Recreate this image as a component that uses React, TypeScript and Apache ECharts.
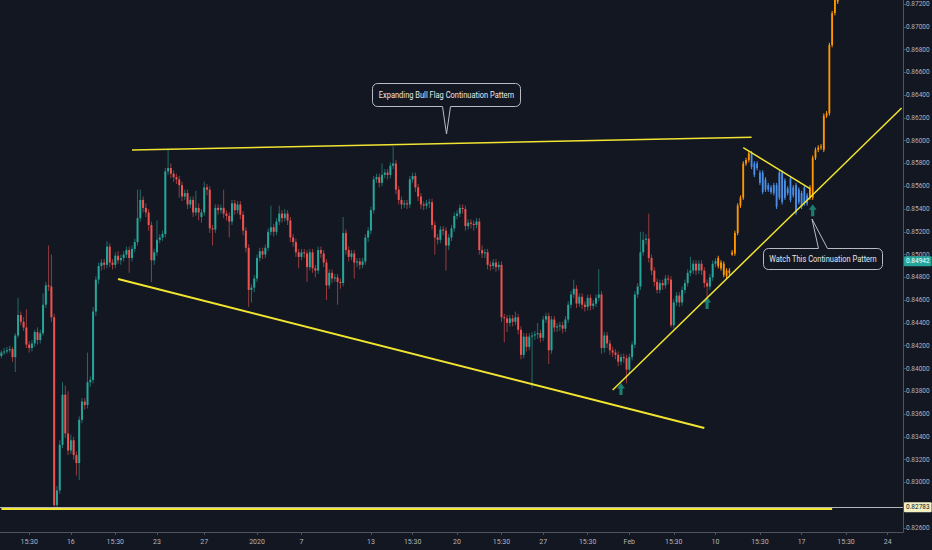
import React, { useEffect, useRef } from "react";
import * as echarts from "echarts";

// Real 4H candles: [open, close, low, high] in units of 0.0001
const candleOHLC: number[][] = [
[8411,8414,8409,8416],[8414,8415,8412,8418],[8415,8416,8413,8419],[8416,8417,8414,8420],[8417,8410,8406,8419],[8410,8429,8397,8431],[8429,8447,8427,8462],[8447,8441,8438,8450],
[8441,8436,8433,8445],[8436,8421,8418,8452],[8421,8418,8414,8424],[8418,8422,8415,8425],[8422,8432,8419,8434],[8432,8425,8421,8436],[8425,8431,8422,8434],[8431,8456,8429,8466],
[8456,8473,8453,8476],[8473,8472,8468,8508],[8472,8445,8441,8500],[8445,8280,8278,8448],[8280,8293,8278,8297],[8293,8333,8290,8337],[8333,8377,8330,8388],[8377,8343,8339,8385],
[8343,8328,8324,8380],[8328,8337,8325,8342],[8337,8324,8320,8340],[8324,8317,8306,8327],[8317,8355,8302,8358],[8355,8371,8352,8374],[8371,8368,8364,8374],[8368,8388,8365,8414],
[8388,8390,8384,8393],[8390,8450,8387,8454],[8450,8478,8446,8481],[8478,8490,8474,8493],[8490,8493,8486,8496],[8493,8491,8487,8496],[8491,8507,8488,8512],[8507,8493,8489,8510],
[8493,8491,8487,8496],[8491,8499,8488,8502],[8499,8495,8492,8503],[8495,8497,8491,8500],[8497,8500,8494,8503],[8500,8504,8497,8507],[8504,8497,8484,8507],[8497,8505,8494,8508],
[8505,8511,8502,8514],[8511,8532,8508,8557],[8532,8548,8529,8557],[8548,8541,8537,8551],[8541,8537,8533,8545],[8537,8526,8521,8540],[8526,8495,8476,8529],[8495,8502,8491,8505],
[8502,8513,8499,8530],[8513,8515,8510,8518],[8515,8518,8512,8521],[8518,8573,8515,8576],[8573,8576,8570,8592],[8576,8571,8567,8580],[8571,8568,8564,8574],[8568,8566,8562,8571],
[8566,8561,8550,8569],[8561,8551,8547,8564],[8551,8554,8548,8557],[8554,8544,8540,8557],[8544,8548,8541,8551],[8548,8537,8533,8551],[8537,8541,8534,8556],[8541,8537,8530,8545],
[8533,8537,8528,8540],[8537,8559,8534,8564],[8559,8557,8552,8562],[8557,8523,8519,8560],[8523,8522,8508,8526],[8522,8541,8519,8544],[8541,8539,8535,8544],[8539,8541,8536,8544],
[8541,8536,8532,8557],[8536,8534,8530,8539],[8534,8529,8515,8537],[8529,8545,8526,8548],[8545,8539,8535,8548],[8539,8544,8536,8547],[8544,8535,8531,8547],[8535,8521,8517,8538],
[8521,8506,8502,8524],[8506,8469,8454,8509],[8469,8471,8458,8474],[8471,8479,8467,8482],[8479,8497,8476,8500],[8497,8503,8494,8506],[8503,8500,8496,8506],[8500,8506,8497,8509],
[8506,8520,8503,8523],[8520,8524,8517,8543],[8524,8520,8516,8527],[8520,8529,8517,8532],[8529,8536,8526,8543],[8536,8532,8528,8539],[8532,8536,8529,8540],[8536,8530,8526,8539],
[8530,8515,8511,8533],[8515,8511,8507,8518],[8511,8502,8498,8514],[8502,8498,8488,8505],[8498,8502,8495,8505],[8502,8501,8497,8505],[8501,8489,8476,8504],[8489,8502,8486,8505],
[8502,8488,8484,8505],[8488,8486,8480,8491],[8486,8504,8483,8507],[8504,8501,8497,8507],[8501,8493,8489,8504],[8493,8473,8460,8496],[8473,8484,8470,8487],[8484,8479,8475,8487],
[8479,8480,8476,8483],[8480,8476,8456,8483],[8476,8475,8470,8479],[8475,8519,8472,8533],[8519,8504,8500,8522],[8504,8498,8494,8507],[8498,8501,8495,8504],[8501,8493,8479,8504],
[8493,8494,8489,8497],[8494,8491,8487,8497],[8491,8494,8488,8497],[8494,8515,8491,8518],[8515,8521,8511,8524],[8521,8539,8518,8542],[8539,8566,8536,8569],[8566,8568,8563,8571],
[8568,8563,8559,8571],[8563,8570,8560,8580],[8570,8572,8567,8575],[8572,8570,8566,8575],[8570,8578,8567,8581],[8578,8580,8575,8595],[8580,8557,8553,8583],[8557,8548,8544,8560],
[8548,8544,8540,8551],[8544,8545,8541,8548],[8545,8544,8540,8548],[8544,8566,8541,8569],[8566,8569,8563,8572],[8569,8559,8555,8572],[8559,8551,8547,8562],[8551,8544,8540,8554],
[8544,8543,8539,8547],[8543,8545,8540,8548],[8545,8546,8541,8549],[8546,8526,8522,8549],[8526,8515,8500,8529],[8515,8513,8509,8518],[8513,8522,8510,8525],[8522,8521,8517,8525],
[8521,8508,8486,8524],[8508,8515,8504,8518],[8515,8523,8512,8526],[8523,8534,8520,8537],[8534,8536,8531,8539],[8536,8541,8533,8544],[8541,8540,8536,8544],[8540,8525,8521,8543],
[8525,8528,8522,8531],[8528,8527,8523,8531],[8527,8526,8521,8530],[8526,8529,8523,8532],[8529,8504,8500,8532],[8504,8501,8497,8508],[8501,8502,8497,8505],[8502,8491,8487,8505],
[8491,8490,8486,8494],[8490,8493,8487,8496],[8493,8489,8485,8496],[8489,8491,8486,8494],[8491,8445,8441,8494],[8445,8444,8423,8448],[8444,8440,8432,8447],[8440,8444,8437,8447],
[8444,8441,8437,8447],[8441,8445,8438,8450],[8445,8434,8430,8448],[8434,8412,8408,8437],[8412,8428,8409,8431],[8428,8419,8415,8431],[8419,8428,8416,8431],[8428,8429,8383,8432],
[8429,8430,8425,8433],[8430,8431,8426,8440],[8431,8427,8423,8434],[8427,8443,8424,8446],[8443,8446,8440,8449],[8446,8416,8404,8449],[8416,8443,8413,8446],[8443,8436,8432,8446],
[8436,8437,8432,8440],[8437,8438,8433,8441],[8438,8435,8431,8441],[8435,8443,8432,8446],[8443,8456,8440,8459],[8456,8465,8453,8468],[8465,8470,8462,8478],[8470,8457,8453,8473],
[8457,8463,8454,8466],[8463,8456,8452,8466],[8456,8454,8450,8459],[8454,8462,8451,8465],[8462,8455,8451,8465],[8455,8457,8452,8460],[8457,8462,8454,8465],[8462,8465,8459,8487],
[8465,8418,8413,8468],[8418,8429,8414,8432],[8429,8422,8418,8432],[8422,8416,8412,8425],[8416,8414,8410,8419],[8414,8412,8408,8417],[8412,8406,8402,8415],[8406,8410,8403,8413],
[8410,8409,8405,8413],[8409,8399,8387,8412],[8399,8410,8396,8413],[8410,8421,8407,8424],[8421,8465,8418,8468],[8465,8472,8462,8475],[8472,8502,8469,8520],[8502,8513,8499,8520],
[8513,8514,8509,8518],[8514,8497,8493,8536],[8497,8486,8482,8500],[8486,8476,8472,8489],[8476,8469,8466,8479],[8469,8475,8466,8478],[8475,8473,8469,8478],[8473,8479,8470,8482],
[8479,8478,8474,8482],[8478,8438,8436,8481],[8438,8458,8435,8461],[8458,8464,8455,8467],[8464,8458,8454,8467],[8458,8469,8455,8472],[8469,8475,8466,8478],[8475,8484,8472,8487],
[8484,8486,8481,8498],[8486,8492,8483,8495],[8492,8486,8482,8495],[8486,8492,8483,8495],[8492,8486,8482,8495],[8486,8475,8471,8489],[8475,8472,8458,8478],[8472,8480,8469,8483],
[8480,8492,8477,8495],[8492,8494.2,8489,8497]
];

// Projected bars drawn after the last candle: "o" = orange, "b" = blue
const projKind: string[] = [
"o","o","o","o","o","o","o","o","o","o","o","o",
"b","b","b","b","b","b","b","b","b","b","b","b","b","b","b","b","b","b","b","b","b",
"o","o","o","o","o","o","o","o","o","o","o"
];
const projOHLC: number[][] = [
[8497,8490,8488,8499],[8493,8488,8486,8495],[8492,8482,8480,8494],[8486,8481,8479,8488],[8484,8486,8482,8488],[8500,8502,8499,8504],
[8501,8519,8499,8521],[8519,8543,8517,8545],[8543,8550,8541,8552],[8550,8580,8548,8582],[8580,8583,8578,8585],[8583,8589,8581,8591],
[8589,8577,8575,8591],[8580,8570,8568,8582],[8580,8576,8574,8582],[8572,8563,8561,8574],[8572,8555,8553,8574],[8566,8557,8555,8568],
[8561,8557,8555,8563],[8559,8555,8553,8561],[8561,8554,8552,8563],[8561,8542,8540,8563],[8572,8550,8548,8574],[8572,8546,8544,8574],
[8565,8550,8548,8567],[8558,8554,8552,8560],[8567,8548,8546,8569],[8559,8552,8550,8561],[8561,8537,8535,8563],[8557,8546,8544,8559],
[8554,8542,8540,8556],[8559,8545,8543,8561],[8552,8545,8543,8554],
[8550,8559,8548,8561],[8550,8585,8548,8587],[8585,8592,8583,8594],[8592,8594,8590,8596],[8594,8595,8592,8597],[8592,8622,8590,8624],
[8622,8624,8620,8626],[8624,8684,8622,8686],[8684,8712,8682,8714],[8712,8724,8710,8730],[8722,8728,8720,8735]
];

const slotCount = 325;

// X-axis tick labels: [category index, text]
const xTickIdx: number[] = [10, 25, 41, 56, 73, 92, 108, 133, 148, 164, 180, 195, 211, 226, 242, 257, 273, 288, 304, 319];
const xTickText: string[] = ["15:30", "16", "15:30", "23", "27", "2020", "7", "13", "15:30", "20", "15:30", "27", "15:30", "Feb", "15:30", "10", "15:30", "17", "15:30", "24"];

// Y-axis tick values (0.828 is covered by the 0.82783 price tag, so it has no label)
const yTicks: number[] = [0.826, 0.828, 0.83, 0.832, 0.834, 0.836, 0.838, 0.84, 0.842, 0.844, 0.846, 0.848, 0.85, 0.852, 0.854, 0.856, 0.858, 0.86, 0.862, 0.864, 0.866, 0.868, 0.87, 0.872];
const yLabelTicks: number[] = [0.826, 0.83, 0.832, 0.834, 0.836, 0.838, 0.84, 0.842, 0.844, 0.846, 0.848, 0.85, 0.852, 0.854, 0.856, 0.858, 0.86, 0.862, 0.864, 0.866, 0.868, 0.87, 0.872];

// Trend lines: [[index, price], [index, price]]
const topLine = [[47, 0.85918], [270, 0.86031]];
const lowerLine = [[42, 0.84786], [253, 0.83478]];
const riseLine = [[220, 0.83811], [324, 0.86287]];
const flagLine = [[267, 0.85939], [291, 0.8558]];
const baseLine = [[0, 0.82767], [299, 0.82767]];

// Up arrows: [index, price]
const arrows = [[223, 0.8382], [254, 0.84575], [292, 0.8539]];

const hLinePrice = 0.82783;
const lastPrice = 0.84942;

const FONT = "Roboto, 'Liberation Sans', sans-serif";

export default function App() {
  const ref = useRef<HTMLDivElement>(null);

  useEffect(() => {
    if (!ref.current) return;
    const chart = echarts.init(ref.current, undefined, { renderer: "svg" });

    const cats = Array.from({ length: slotCount }, (_, i) => String(i));
    const tickMap: Record<number, string> = {};
    xTickIdx.forEach((idx, k) => (tickMap[idx] = xTickText[k]));
    const showTick = (index: number) => tickMap[index] !== undefined;

    const candleData = candleOHLC.map((r, i) => [i, r[0] / 10000, r[1] / 10000, r[2] / 10000, r[3] / 10000]);
    const projData = projOHLC.map((r, k) => [candleOHLC.length + k, r[0] / 10000, r[1] / 10000, r[2] / 10000, r[3] / 10000, projKind[k] === "b" ? 1 : 0]);

    const renderCandle = (params: any, api: any) => {
      const x = api.value(0);
      const o = api.value(1), c = api.value(2), l = api.value(3), h = api.value(4);
      const pO = api.coord([x, o]);
      const pC = api.coord([x, c]);
      const pL = api.coord([x, l]);
      const pH = api.coord([x, h]);
      const up = c >= o;
      const col = up ? "#26a69a" : "#ef5350";
      const bw = 2;
      const top = Math.min(pO[1], pC[1]);
      const bh = Math.max(Math.abs(pO[1] - pC[1]), 1);
      return {
        type: "group",
        children: [
          { type: "line", shape: { x1: pH[0], y1: pH[1], x2: pL[0], y2: pL[1] }, style: { stroke: col, lineWidth: 1, opacity: 0.6 } },
          { type: "rect", shape: { x: pO[0] - bw / 2, y: top, width: bw, height: bh }, style: { fill: col } },
        ],
      };
    };

    const renderProj = (params: any, api: any) => {
      const x = api.value(0);
      const o = api.value(1), c = api.value(2), l = api.value(3), h = api.value(4);
      const blue = api.value(5) === 1;
      const col = blue ? "#4a8fe7" : "#ff9800";
      const pO = api.coord([x, o]);
      const pC = api.coord([x, c]);
      const pL = api.coord([x, l]);
      const pH = api.coord([x, h]);
      const top = Math.min(pO[1], pC[1]);
      const bh = Math.max(Math.abs(pO[1] - pC[1]), 1);
      return {
        type: "group",
        children: [
          { type: "line", shape: { x1: pH[0], y1: pH[1], x2: pL[0], y2: pL[1] }, style: { stroke: col, lineWidth: 1 } },
          { type: "rect", shape: { x: pO[0] - 0.9, y: top, width: 1.8, height: bh }, style: { fill: col } },
        ],
      };
    };

    const yellow = "#f2e531";
    const trend = (data: number[][], extra: any = {}) => ({
      type: "line",
      data,
      symbol: "none",
      silent: true,
      animation: false,
      lineStyle: { color: yellow, width: 1.5 },
      z: 5,
      ...extra,
    });

    const arrowPath = "path://M5,0 L10,5.5 L7,5.5 L7,12 L3,12 L3,5.5 L0,5.5 Z";

    const priceLabel = (bg: string, fg: string) => ({
      show: true,
      position: "end",
      distance: 1,
      formatter: (p: any) => Number(p.value).toFixed(5),
      backgroundColor: bg,
      color: fg,
      fontSize: 6.5,
      fontFamily: FONT,
      padding: [2, 2, 1, 2],
      borderRadius: 1,
    });

    const border = "#b8bbc4";
    const bg = "#131722";
    const callText = { fill: "#e6e8ee", font: `8.5px ${FONT}`, textAlign: "center", textVerticalAlign: "middle" };

    chart.setOption({
      animation: false,
      backgroundColor: bg,
      grid: { left: 0, right: 29, top: 0, bottom: 18, containLabel: false, outerBoundsMode: "none" },
      xAxis: {
        type: "category",
        data: cats,
        boundaryGap: true,
        axisLine: { show: true, lineStyle: { color: "#50535e", width: 1 } },
        axisTick: { show: true, alignWithLabel: true, interval: (i: number) => showTick(i), length: 3, lineStyle: { color: "#50535e" } },
        axisLabel: {
          interval: (i: number) => showTick(i),
          formatter: (v: string) => tickMap[Number(v)] ?? "",
          color: "#b2b5be",
          fontSize: 7,
          fontFamily: FONT,
          margin: 6,
        },
        splitLine: { show: false },
      },
      yAxis: {
        type: "value",
        position: "right",
        min: 0.825647,
        max: 0.872351,
        axisLine: { show: true, lineStyle: { color: "#50535e", width: 1 } },
        axisTick: { show: true, length: 3, customValues: yTicks, lineStyle: { color: "#50535e" } },
        axisLabel: {
          customValues: yLabelTicks,
          formatter: (v: number) => v.toFixed(5),
          color: "#b2b5be",
          fontSize: 6.5,
          fontFamily: FONT,
          margin: 3,
          showMinLabel: true,
          showMaxLabel: true,
        },
        splitLine: { show: false },
      },
      series: [
        {
          type: "custom",
          data: candleData,
          renderItem: renderCandle,
          encode: { x: 0, y: [1, 2, 3, 4] },
          clip: true,
          silent: true,
          z: 2,
        },
        {
          type: "custom",
          data: projData,
          renderItem: renderProj,
          encode: { x: 0, y: [1, 2, 3, 4] },
          clip: true,
          silent: true,
          z: 3,
        },
        trend(baseLine, {
          lineStyle: { color: yellow, width: 2 },
          markLine: {
            silent: true,
            symbol: ["none", "none"],
            animation: false,
            precision: 5,
            data: [
              { yAxis: hLinePrice, lineStyle: { color: "#b2b5be", width: 1, type: "solid" }, label: priceLabel("#f3f0c4", "#131722") },
              { yAxis: lastPrice, lineStyle: { color: "rgba(0,0,0,0)", width: 1, type: "solid" }, label: priceLabel("#26a69a", "#ffffff") },
            ],
          },
        }),
        trend(topLine),
        trend(lowerLine, { lineStyle: { color: yellow, width: 2 } }),
        trend(riseLine, {
          markPoint: {
            silent: true,
            animation: false,
            symbol: arrowPath,
            symbolSize: [8, 12],
            itemStyle: { color: "#1d7c70" },
            label: { show: false },
            data: arrows.map((a) => ({ coord: a })),
          },
        }),
        trend(flagLine),
      ],
      graphic: [
        {
          type: "group",
          z: 100,
          children: [
            { type: "rect", shape: { x: 372.5, y: 83.5, width: 148, height: 23, r: 5 }, style: { fill: bg, stroke: border, lineWidth: 1 } },
            { type: "line", shape: { x1: 442.5, y1: 106.5, x2: 450.5, y2: 106.5 }, style: { stroke: bg, lineWidth: 2 } },
            { type: "polyline", shape: { points: [[442.5, 106.5], [446.5, 134], [450.5, 106.5]] }, style: { stroke: border, fill: bg, lineWidth: 1 } },
            { type: "text", x: 446.5, y: 95, scaleX: 0.88, style: { text: "Expanding Bull Flag Continuation Pattern", ...callText } },

            { type: "rect", shape: { x: 763.5, y: 248.5, width: 119, height: 21, r: 5 }, style: { fill: bg, stroke: border, lineWidth: 1 } },
            { type: "line", shape: { x1: 818.5, y1: 248.5, x2: 827.5, y2: 248.5 }, style: { stroke: bg, lineWidth: 2 } },
            { type: "polyline", shape: { points: [[818.5, 248.5], [812, 219], [827.5, 248.5]] }, style: { stroke: border, fill: bg, lineWidth: 1 } },
            { type: "text", x: 823, y: 259, scaleX: 0.88, style: { text: "Watch This Continuation Pattern", ...callText } },
          ],
        },
      ],
    });

    return () => chart.dispose();
  }, []);

  return <div ref={ref} style={{ position: "fixed", left: 0, top: 0, width: 932, height: 550 }} />;
}
